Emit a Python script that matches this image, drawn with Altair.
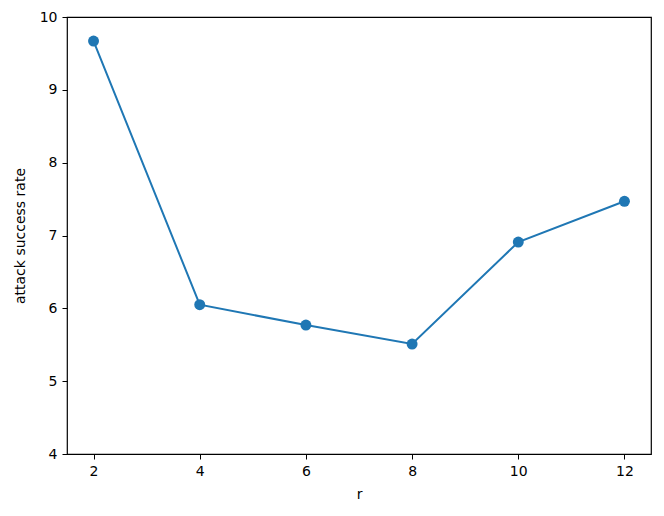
import altair as alt
import pandas as pd

r_values = [2, 4, 6, 8, 10, 12]
asr_values = [9.67, 6.05, 5.77, 5.51, 6.91, 7.47]
x_ticks = [2, 4, 6, 8, 10, 12]
y_ticks = [4, 5, 6, 7, 8, 9, 10]

df = pd.DataFrame({"r": r_values, "asr": asr_values})

color = "#1f77b4"
font = "DejaVu Sans"

x = alt.X("r:Q", title="r",
          scale=alt.Scale(domain=[1.5, 12.5], nice=False, zero=False),
          axis=alt.Axis(values=x_ticks, grid=False, tickSize=5, tickColor="black",
                        domain=False, labelFont=font, labelFontSize=14, labelColor="black",
                        titleFont=font, titleFontSize=14, titleFontWeight="normal",
                        titleColor="black", labelPadding=5, titlePadding=9, labelFlush=False))
y = alt.Y("asr:Q", title="attack success rate",
          scale=alt.Scale(domain=[4, 10], nice=False, zero=False),
          axis=alt.Axis(values=y_ticks, grid=False, tickSize=5, tickColor="black",
                        domain=False, labelFont=font, labelFontSize=14, labelColor="black",
                        titleFont=font, titleFontSize=14, titleFontWeight="normal",
                        titleColor="black", labelPadding=5, titlePadding=12, labelFlush=False))

base = alt.Chart(df)
line = base.mark_line(color=color, strokeWidth=2).encode(x=x, y=y)
pts = base.mark_point(color=color, filled=True, opacity=1, size=120).encode(x=x, y=y)

chart = (line + pts).properties(
    width=584, height=437,
    autosize=alt.AutoSizeParams(type="none"),
    padding={"left": 59, "top": 9, "right": 5, "bottom": 50},
    background="white",
).configure_view(stroke="black", strokeWidth=1.2, strokeOpacity=1)

chart.save("out.html", embed_options={"renderer": "svg", "actions": False})
